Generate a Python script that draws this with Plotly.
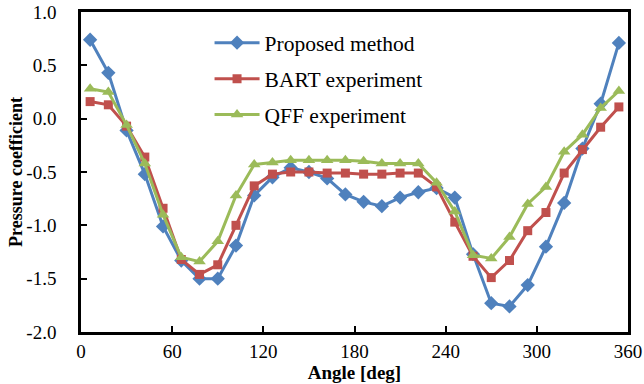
import plotly.graph_objects as go

# Circumferential angle of each pressure tap (deg)
angle = [6, 18, 30, 42, 54, 66, 78, 90, 102, 114, 126, 138, 150, 162, 174,
         186, 198, 210, 222, 234, 246, 258, 270, 282, 294, 306, 318, 330, 342, 354]

proposed = [0.74, 0.43, -0.11, -0.52, -1.01, -1.33, -1.50, -1.50, -1.19, -0.72,
            -0.55, -0.46, -0.50, -0.56, -0.71, -0.78, -0.82, -0.74, -0.69, -0.65,
            -0.74, -1.27, -1.73, -1.76, -1.56, -1.20, -0.79, -0.28, 0.14, 0.71]

bart = [0.16, 0.13, -0.07, -0.36, -0.84, -1.32, -1.46, -1.37, -1.00, -0.63,
        -0.52, -0.50, -0.50, -0.51, -0.51, -0.52, -0.52, -0.51, -0.51, -0.64,
        -0.97, -1.29, -1.49, -1.33, -1.05, -0.88, -0.51, -0.29, -0.08, 0.11]

qff = [0.28, 0.25, -0.06, -0.42, -0.90, -1.30, -1.34, -1.15, -0.72, -0.43,
       -0.41, -0.39, -0.39, -0.39, -0.39, -0.40, -0.42, -0.42, -0.42, -0.60,
       -0.87, -1.28, -1.31, -1.11, -0.80, -0.64, -0.31, -0.15, 0.10, 0.26]

x_ticks = [0, 60, 120, 180, 240, 300, 360]
y_ticks = [-2.0, -1.5, -1.0, -0.5, 0.0, 0.5, 1.0]
y_tick_text = ["-2.0", "-1.5", "-1.0", "-0.5", "0.0", "0.5", "1.0"]

series = [
    ("Proposed method", proposed, "#4F81BD", "diamond", 11),
    ("BART experiment", bart, "#C0504D", "square", 9),
    ("QFF experiment", qff, "#9BBB59", "triangle-up", 11),
]

fig = go.Figure()
for name, vals, color, symbol, size in series:
    fig.add_trace(go.Scatter(
        x=angle, y=vals, name=name, legendgroup=name,
        mode="lines+markers",
        line=dict(color=color, width=3),
        marker=dict(symbol=symbol, size=size, color=color),
    ))

serif = "Liberation Serif, Times New Roman, serif"

fig.update_layout(
    width=644, height=384,
    margin=dict(l=81, r=16, t=12, b=52),
    paper_bgcolor="white", plot_bgcolor="white",
    font=dict(family=serif, color="black", size=19),
    showlegend=True,
    legend=dict(
        x=0.235, y=0.968, xanchor="left", yanchor="top",
        bgcolor="rgba(0,0,0,0)", font=dict(size=21.5, family=serif),
        itemwidth=45, tracegroupgap=5,
    ),
)

fig.update_xaxes(
    range=[0, 360], tickvals=x_ticks, automargin=False,
    ticks="inside", ticklen=6, tickwidth=2, tickcolor="black",
    showline=True, linecolor="black", linewidth=2.5, mirror=True,
    showgrid=False, zeroline=False,
    tickfont=dict(size=19, family=serif),
    ticklabelstandoff=0, ticklabeloverflow="allow",
    title=dict(text="<b>Angle [deg]</b>", font=dict(size=19, family=serif), standoff=0),
)
fig.update_yaxes(
    range=[-2, 1], tickvals=y_ticks, ticktext=y_tick_text, automargin=False,
    ticks="inside", ticklen=6, tickwidth=2, tickcolor="black",
    showline=True, linecolor="black", linewidth=2.5, mirror=True,
    showgrid=False, zeroline=False,
    tickfont=dict(size=19, family=serif),
    ticklabelstandoff=18, ticklabeloverflow="allow",
    title=dict(text="<b>Pressure coefficient</b>", font=dict(size=18, family=serif), standoff=0),
)

fig.write_html("out.html")
